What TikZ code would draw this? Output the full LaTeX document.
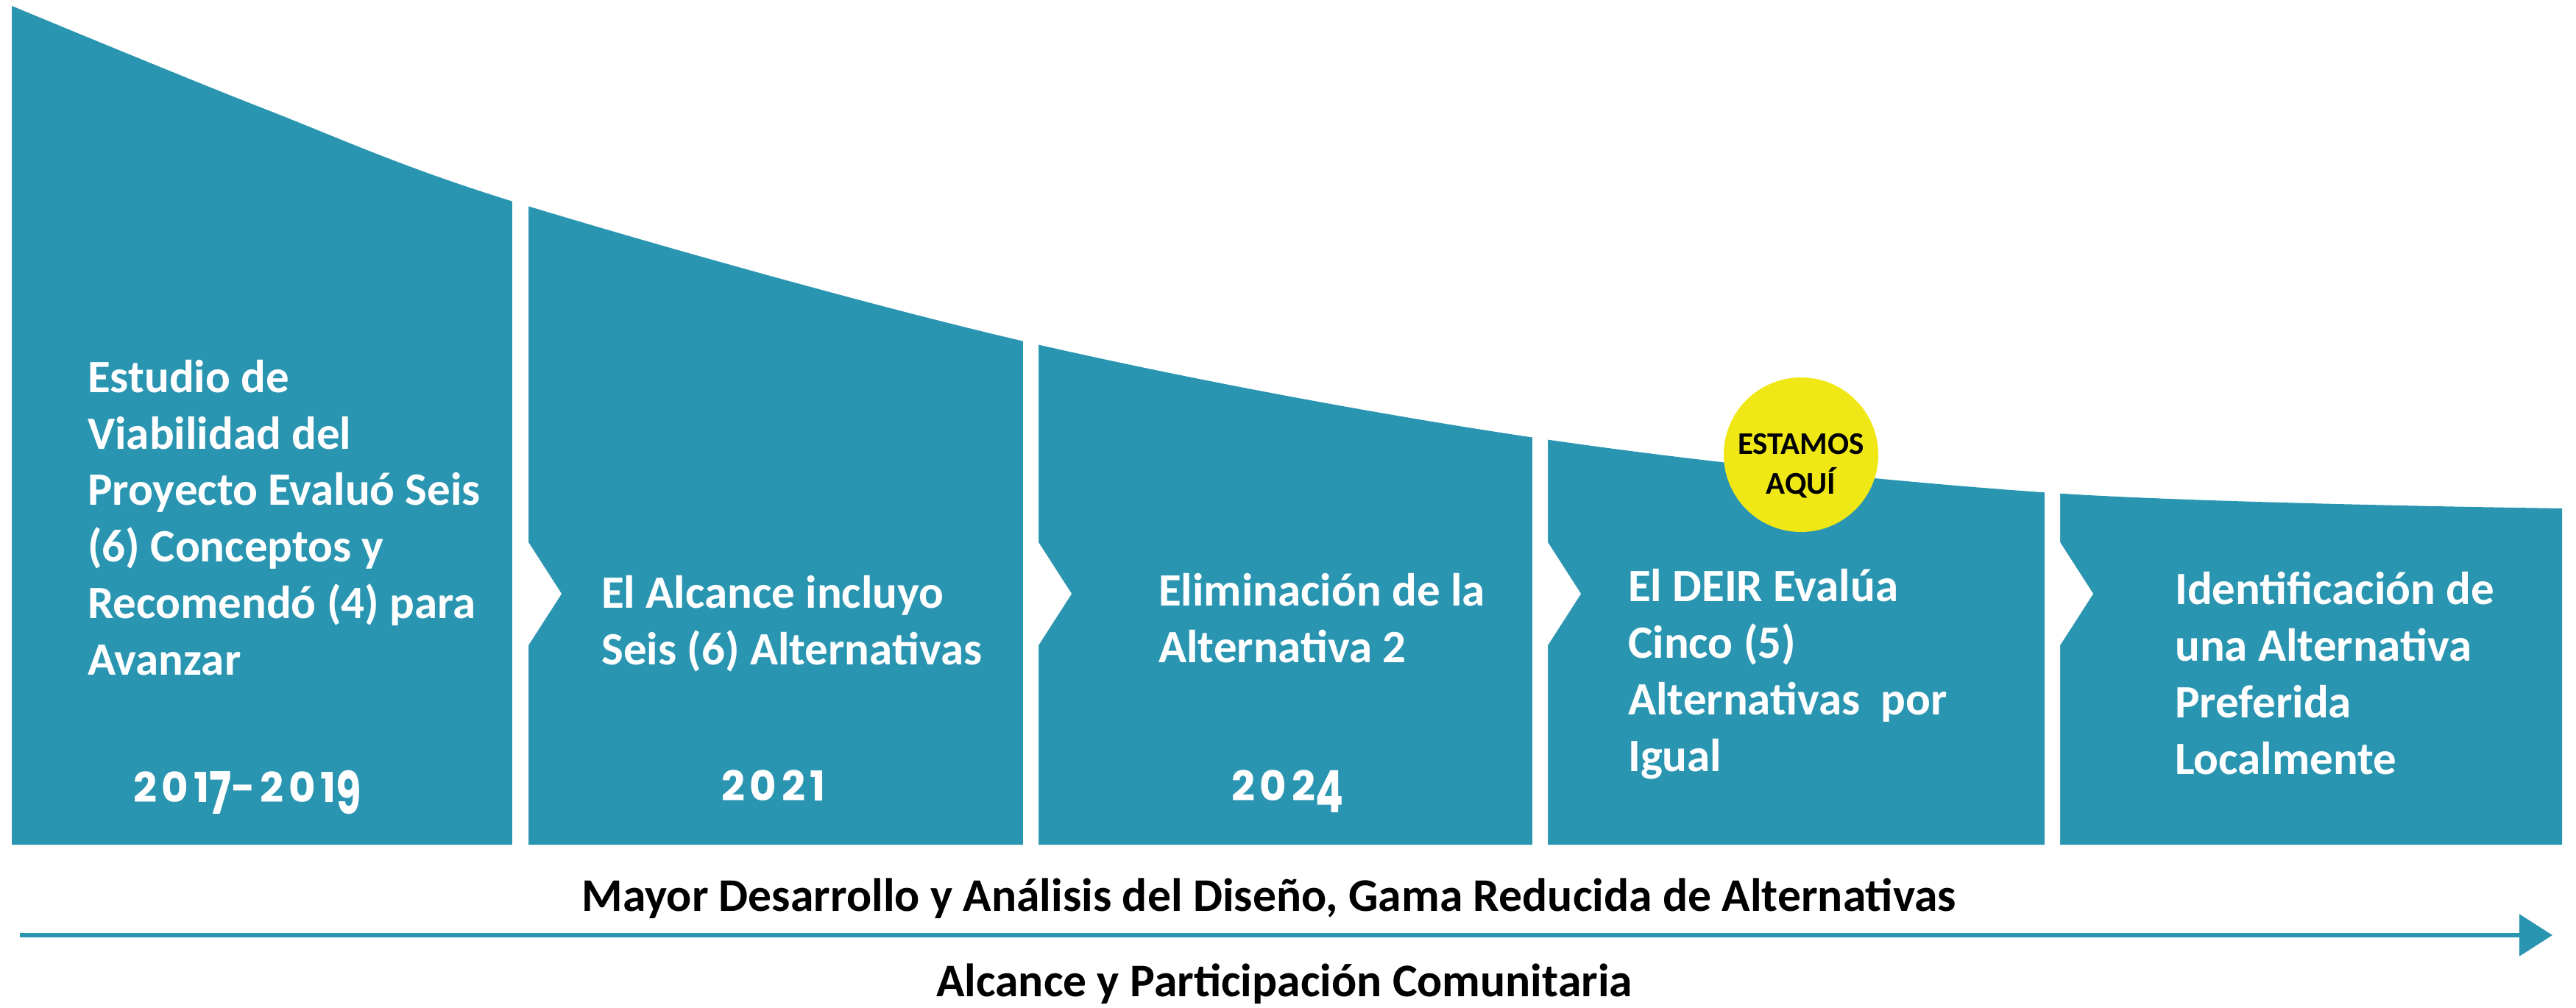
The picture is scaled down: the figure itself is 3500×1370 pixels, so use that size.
\documentclass[tikz,border=0pt]{standalone}
\usepackage{fontspec}
\setmainfont{Carlito}
\newfontfamily\yearfont[LetterSpace=12]{Poppins}
\usetikzlibrary{arrows.meta}
\definecolor{tealA}{HTML}{2A95B1}
\definecolor{yellowA}{HTML}{EFE816}
\newcommand\lowdig[1]{\raisebox{-16pt}{\scalebox{1}[1.42]{#1}}}
\begin{document}
\begin{tikzpicture}[x=1pt,y=-1pt,
  paneltext/.style={anchor=base west, inner sep=0pt, align=left, text=white,
    font=\fontsize{63}{76.7}\selectfont\bfseries},
  yeartext/.style={anchor=base, inner sep=0pt, text=white,
    font=\fontsize{56}{60}\selectfont\yearfont\bfseries},
  bottomtext/.style={anchor=base, inner sep=0pt, text=black,
    font=\fontsize{63.6}{76}\selectfont\bfseries},
  herestyle/.style={circle, fill=yellowA, minimum size=210pt, inner sep=0pt},
  heretext/.style={anchor=base, inner sep=0pt, align=center, text=black,
    font=\fontsize{43}{54}\selectfont\bfseries},
  gapfill/.style={fill=white},
  bigarrow/.style={draw=tealA, line width=6pt, -{Triangle[length=45pt,width=56pt]}}]
\useasboundingbox (0,0) rectangle (3500,1370);
% the tapering band of stages
\fill[tealA] plot[smooth, tension=0.55] coordinates
  {(16,8) (357,147) (707,277) (1400,466) (2092,596) (2788,670) (3481,691)}
  -- (3481,1148) -- (16,1148) -- cycle;
% white gaps with chevron notches
\foreach \a/\b in {696/718, 1390/1411, 2082/2103, 2778/2799} {
  \fill[gapfill] (\a,-5) -- (\b,-5) -- (\b,737) -- ({\b+45},807) -- (\b,877)
    -- (\b,1160) -- (\a,1160) -- cycle;
}
% stage texts (anchor = baseline of the last line)
\node[paneltext] (s1) at (119,917) {Estudio de\\Viabilidad del\\Proyecto Evaluó Seis\\(6) Conceptos y\\Recomendó (4) para\\Avanzar};
\node[paneltext] (s2) at (817,903) {El Alcance incluyo\\Seis (6) Alternativas};
\node[paneltext] (s3) at (1574,900) {Eliminación de la\\Alternativa 2};
\node[paneltext] (s4) at (2212,1048) {El DEIR Evalúa\\Cinco (5)\\Alternativas\ \ por\\Igual};
\node[paneltext] (s5) at (2955,1052) {Identificación de\\una Alternativa\\Preferida\\Localmente};
% years
\node[yeartext] (y1) at (336,1090) {201\lowdig{7}-201\lowdig{9}};
\node[yeartext] (y2) at (1051,1088) {2021};
\node[yeartext] (y3) at (1749,1088) {202\lowdig{4}};
% we are here
\node[herestyle] (here) at (2447,618) {};
\node[heretext] (heretxt) at (2447,671) {ESTAMOS\\AQUÍ};
% bottom
\node[bottomtext] (dev) at (1724,1238) {Mayor Desarrollo y Análisis del Diseño, Gama Reducida de Alternativas};
\coordinate (arrS) at (27,1271);
\coordinate (arrE) at (3468,1271);
\draw[bigarrow] (arrS) -- (arrE);
\node[bottomtext] (outr) at (1745,1354) {Alcance y Participación Comunitaria};
\end{tikzpicture}
\end{document}
